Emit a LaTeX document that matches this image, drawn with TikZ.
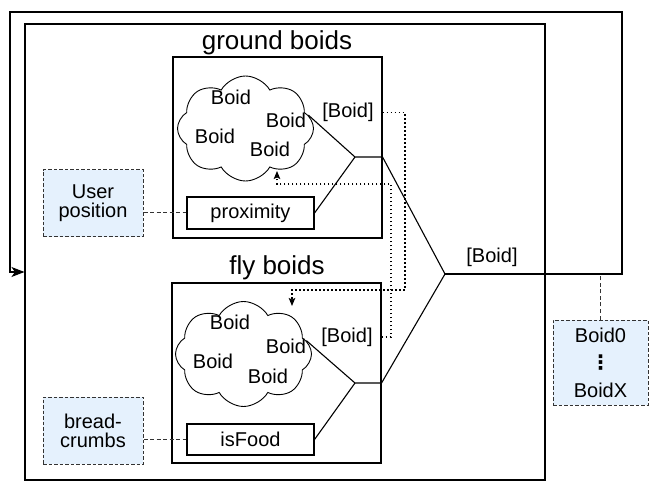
\documentclass[tikz,border=0pt]{standalone}
\usepackage{fontspec}
\setmainfont{Liberation Sans}
\newfontfamily\symfont{DejaVu Sans}
\usetikzlibrary{shapes.symbols,arrows.meta}
\definecolor{inputblue}{RGB}{229,241,253}
\begin{document}
\begin{tikzpicture}[x=1pt,y=-1pt,line width=1.1pt,
  txt/.style={font=\fontsize{20}{19}\selectfont,inner sep=0pt},
  heading/.style={font=\fontsize{26}{26}\selectfont,inner sep=0pt,anchor=base},
  container/.style={draw,rectangle,inner sep=0pt},
  opbox/.style={draw,rectangle,inner sep=0pt,font=\fontsize{20}{19}\selectfont},
  inputbox/.style={draw=black!80,line width=1pt,dash pattern=on 3.5pt off 2pt,fill=inputblue,
    rectangle,inner sep=0pt,align=center,font=\fontsize{20}{19}\selectfont,
    minimum width=100pt,minimum height=67pt},
  flock/.style={draw,line width=0.9pt,cloud,cloud puffs=8,cloud puff arc=120,
    minimum width=136pt,minimum height=105pt,inner sep=0pt},
  feed/.style={dash pattern=on 1.5pt off 2.5pt,line width=1.4pt},
  link/.style={dash pattern=on 4pt off 2.5pt,line width=1pt,draw=black!80},
  feedtip/.style={-{Stealth[length=8pt,width=6.5pt,inset=1.5pt]}},
  looptip/.style={-{Stealth[length=13pt,width=10pt,inset=3.5pt]}}]
\useasboundingbox (0,0) rectangle (651,481);

% containers
\node[container,minimum width=520pt,minimum height=456pt] (main) at (285,252) {};
\node[container,minimum width=209pt,minimum height=181pt] (gbox) at (277.5,147.5) {};
\node[container,minimum width=209pt,minimum height=180pt] (fbox) at (276.5,373) {};
\node[heading] (gtitle) at (277,50) {ground boids};
\node[heading] (ftitle) at (277,275) {fly boids};

% flocks
\node[flock] (gcloud) at (245.5,128.5) {};
\node[txt] (g1) at (231,97) {Boid};
\node[txt] (g2) at (286,120) {Boid};
\node[txt] (g3) at (215,136) {Boid};
\node[txt] (g4) at (270,149) {Boid};
\node[flock] (fcloud) at (243.5,354) {};
\node[txt] (f1) at (230,322) {Boid};
\node[txt] (f2) at (286,346) {Boid};
\node[txt] (f3) at (213,361) {Boid};
\node[txt] (f4) at (268,376) {Boid};

% filters
\node[opbox,minimum width=127pt,minimum height=32pt] (prox) at (250.5,213) {proximity};
\node[opbox,minimum width=127pt,minimum height=31pt] (isfood) at (250.5,439.5) {isFood};

% inputs
\node[inputbox] (user) at (93,203.5) {User\\position};
\node[inputbox] (crumbs) at (93,430.5) {bread-\\crumbs};
\node[inputbox,minimum width=95pt,minimum height=85pt,font=\fontsize{20}{27.5}\selectfont]
  (boids) at (600.5,362.5) {Boid0\\{\symfont\bfseries ⋮}\\BoidX};

% output labels
\node[txt] (gl) at (348,112.5) {[Boid]};
\node[txt] (fl) at (347,337) {[Boid]};
\node[txt] (bl) at (492,257) {[Boid]};

% junctions
\coordinate (jg) at (355,157);
\coordinate (jf) at (355,383);
\coordinate (jb) at (445,274);
\coordinate (loopin) at (main.west |- 0,272);
\coordinate (gin) at (277,171);
\coordinate (fin) at (292,306);

% merge lines
\draw (gcloud.12) -- (jg) -- (jg -| gbox.east) -- (jb);
\draw (prox.east) -- (jg);
\draw (fcloud.12) -- (jf) -- (jf -| fbox.east) -- (jb);
\draw (isfood.east) -- (jf);

% feedback loop
\draw[looptip] (jb) -- (622,274) -- (622,12) -- (10,12) -- (10,272) -- (loopin);

% input links
\draw[link] (user.east |- prox) -- (prox.west);
\draw[link] (crumbs.east |- isfood) -- (isfood.west);
\draw[link] (boids.north) -- (boids.north |- jb);

% cross feeds between flocks
\draw[feed,feedtip] (gl -| gbox.east) -| (405,290) -| (fin);
\draw[feed,feedtip] (fl -| fbox.east) -| (391,184) -| (gin);
\end{tikzpicture}
\end{document}
